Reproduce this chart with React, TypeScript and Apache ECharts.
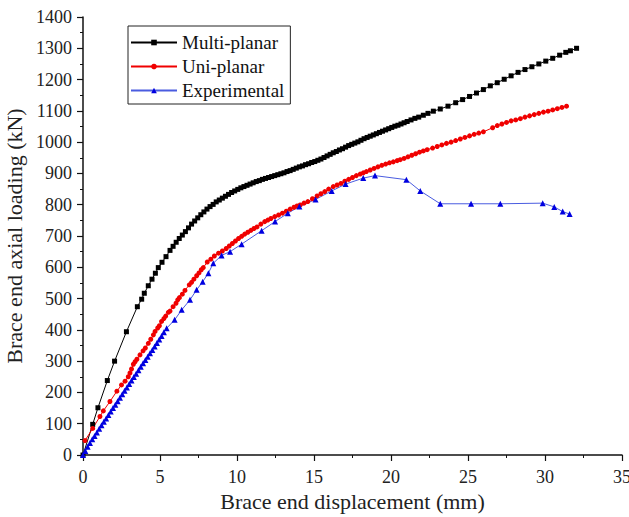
import React, { useEffect, useRef } from "react";
import * as echarts from "echarts";

const seriesNames = ["Multi-planar", "Uni-planar", "Experimental"];

const multiPlanar: [number, number][] = [
  [0, 0], [0.63, 98], [0.97, 151], [1.58, 238], [2.05, 300], [2.82, 394], [3.53, 474],
  [3.81, 498], [3.98, 517], [4.24, 541], [4.48, 562], [4.7, 581], [4.89, 599], [5.13, 616],
  [5.39, 634], [5.65, 654], [5.85, 667], [6.05, 680], [6.25, 692], [6.45, 703], [6.65, 714],
  [6.85, 726], [7.05, 738], [7.25, 748], [7.45, 758], [7.65, 768], [7.85, 777], [8.05, 786],
  [8.25, 794], [8.45, 801], [8.65, 809], [8.85, 815], [9.05, 821], [9.25, 827], [9.45, 833],
  [9.65, 839], [9.85, 844], [10.05, 849], [10.25, 854], [10.45, 858], [10.65, 862],
  [10.85, 866], [11.05, 870], [11.25, 874], [11.45, 877], [11.65, 881], [11.85, 884],
  [12.05, 887], [12.25, 890], [12.45, 893], [12.65, 896], [12.85, 899], [13.05, 902],
  [13.25, 906], [13.45, 909], [13.65, 913], [13.85, 917], [14.05, 921], [14.25, 924],
  [14.45, 928], [14.65, 931], [14.85, 935], [15.05, 938], [15.25, 942], [15.45, 946],
  [15.65, 951], [15.85, 956], [16.05, 961], [16.25, 966], [16.45, 970], [16.65, 975],
  [16.85, 979], [17.05, 984], [17.25, 989], [17.45, 993], [17.65, 997], [17.85, 1001],
  [18.05, 1006], [18.25, 1011], [18.45, 1015], [18.65, 1019], [18.85, 1023], [19.05, 1027],
  [19.25, 1031], [19.45, 1035], [19.65, 1039], [19.85, 1043], [20.05, 1047], [20.25, 1051],
  [20.45, 1054], [20.65, 1058], [20.85, 1062], [21.05, 1066], [21.3, 1071], [21.55, 1076],
  [21.8, 1080], [22.1, 1086], [22.4, 1092], [22.75, 1099], [23.2, 1106], [23.7, 1115],
  [24.2, 1126], [24.65, 1136], [25.1, 1146], [25.55, 1157], [26.0, 1168], [26.45, 1180],
  [26.9, 1190], [27.35, 1201], [27.8, 1212], [28.25, 1223], [28.7, 1232], [29.15, 1241],
  [29.6, 1250], [30.05, 1259], [30.5, 1268], [30.95, 1278], [31.35, 1287], [31.65, 1292],
  [32.05, 1300],
];

const uniPlanar: [number, number][] = [
  [0.13, 46], [0.63, 85], [1.1, 123], [1.32, 141], [1.75, 171], [2.2, 204], [2.5, 224],
  [2.73, 236], [2.94, 250], [3.05, 262], [3.15, 275], [3.27, 290], [3.38, 298], [3.5, 306],
  [3.7, 320], [3.9, 333], [4.05, 342], [4.24, 357], [4.4, 370], [4.57, 384], [4.68, 395],
  [4.85, 406], [4.96, 413], [5.1, 427], [5.25, 436], [5.37, 444], [5.54, 456], [5.65, 460],
  [5.85, 474], [6.04, 485], [6.15, 496], [6.26, 503], [6.45, 514], [6.62, 526], [6.9, 544],
  [7.05, 552], [7.2, 562], [7.38, 573], [7.53, 582], [7.68, 592], [7.81, 599], [8.07, 617],
  [8.3, 626], [8.53, 636], [8.8, 645], [9.05, 652], [9.3, 660], [9.5, 668], [9.7, 676],
  [9.9, 684], [10.1, 692], [10.3, 699], [10.5, 706], [10.7, 712], [10.9, 718], [11.1, 724],
  [11.3, 729], [11.55, 738], [11.8, 746], [12.0, 751], [12.2, 756], [12.45, 762], [12.7, 767],
  [12.95, 773], [13.2, 779], [13.45, 786], [13.7, 792], [13.9, 796], [14.1, 799], [14.35, 805],
  [14.6, 810], [14.9, 819], [15.2, 828], [15.45, 835], [15.7, 842], [15.95, 850], [16.25, 858],
  [16.5, 863], [16.75, 868], [17.0, 875], [17.25, 881], [17.5, 887], [17.75, 893], [18.0, 898],
  [18.2, 902], [18.4, 906], [18.65, 911], [18.9, 916], [19.15, 921], [19.4, 926], [19.65, 930],
  [19.9, 934], [20.15, 937], [20.4, 941], [20.6, 944], [20.85, 948], [21.1, 953], [21.35, 958],
  [21.6, 963], [21.85, 968], [22.1, 972], [22.35, 976], [22.7, 981], [23.0, 986], [23.3, 991],
  [23.6, 996], [23.9, 1000], [24.2, 1005], [24.5, 1010], [24.8, 1015], [25.1, 1020],
  [25.4, 1025], [25.7, 1029], [26.0, 1033], [26.6, 1046], [26.9, 1053], [27.2, 1058],
  [27.5, 1063], [27.8, 1068], [28.1, 1071], [28.4, 1075], [28.7, 1080], [29.0, 1084],
  [29.3, 1088], [29.6, 1092], [29.9, 1096], [30.2, 1099], [30.5, 1103], [30.8, 1107],
  [31.1, 1111], [31.4, 1115],
];

const experimental: [number, number][] = [
  [0, 0], [0.15, 13], [0.3, 26], [0.45, 38], [0.6, 50], [0.75, 61], [0.9, 72], [1.05, 84],
  [1.2, 95], [1.35, 106], [1.5, 117], [1.65, 128], [1.8, 139], [1.95, 150], [2.1, 161],
  [2.25, 172], [2.4, 183], [2.55, 194], [2.7, 205], [2.85, 216], [3.0, 227], [3.15, 238],
  [3.3, 249], [3.45, 260], [3.6, 271], [3.75, 282], [3.9, 293], [4.05, 304], [4.2, 314],
  [4.35, 325], [4.5, 336], [4.65, 347], [4.8, 358], [4.95, 369], [5.1, 380], [5.25, 392],
  [5.43, 405], [5.95, 432], [6.41, 464], [6.95, 496], [7.38, 528], [7.77, 554], [8.14, 581],
  [8.46, 613], [9.0, 638], [9.55, 650], [10.3, 674], [11.6, 717], [12.47, 746], [13.3, 773],
  [14.05, 794], [15.1, 817], [16.15, 844], [17.05, 866], [18.2, 885], [18.96, 893],
  [21.0, 880], [21.9, 844], [23.2, 803], [25.2, 803], [27.1, 803], [29.85, 805], [30.6, 793],
  [31.15, 778], [31.6, 770],
];

const xTitle = "Brace end displacement (mm)";
const yTitle = "Brace end axial loading (kN)";

const FONT = "'Liberation Serif', 'Times New Roman', serif";

export default function App() {
  const ref = useRef<HTMLDivElement>(null);
  useEffect(() => {
    if (!ref.current) return;
    const chart = echarts.init(ref.current, undefined, { renderer: "svg" });
    const axisCommon = {
      axisLine: { show: true, lineStyle: { color: "#111", width: 1.5 } },
      axisTick: { show: true, inside: false, length: 6, lineStyle: { color: "#111", width: 1.2 } },
      minorTick: { show: true, splitNumber: 2, length: 3, lineStyle: { color: "#111", width: 1 } },
      splitLine: { show: false },
      minorSplitLine: { show: false },
      axisLabel: { fontSize: 18, fontFamily: FONT, color: "#222", formatter: (v: number) => String(v) },
      nameLocation: "middle" as const,
      nameTextStyle: { fontSize: 22, fontFamily: FONT, color: "#222" },
    };
    chart.setOption({
      animation: false,
      backgroundColor: "#fff",
      grid: { left: 83, right: 7, top: 17, bottom: 62, containLabel: false, outerBoundsMode: "none" },
      legend: {
        orient: "vertical",
        left: 128,
        top: 26,
        data: seriesNames,
        itemWidth: 46,
        itemHeight: 7,
        itemGap: 5,
        padding: [7, 6, 4, 2],
        borderColor: "#222",
        borderWidth: 1,
        textStyle: { fontSize: 19, fontFamily: FONT, color: "#111" },
      },
      xAxis: {
        type: "value",
        min: 0,
        max: 35,
        interval: 5,
        name: xTitle,
        nameGap: 30,
        ...axisCommon,
        axisLabel: { ...axisCommon.axisLabel, margin: 13 },
      },
      yAxis: {
        type: "value",
        min: 0,
        max: 1400,
        interval: 100,
        name: yTitle,
        nameGap: 54,
        ...axisCommon,
        axisLabel: { ...axisCommon.axisLabel, margin: 11 },
      },
      series: [
        {
          name: seriesNames[0],
          type: "line",
          data: multiPlanar,
          symbol: "rect",
          symbolSize: 5,
          itemStyle: { color: "#000" },
          lineStyle: { color: "#000", width: 1 },
          clip: false,
        },
        {
          name: seriesNames[1],
          type: "line",
          data: uniPlanar,
          symbol: "circle",
          symbolSize: 5,
          itemStyle: { color: "#f00000" },
          lineStyle: { color: "#f00000", width: 1 },
          clip: false,
        },
        {
          name: seriesNames[2],
          type: "line",
          data: experimental,
          symbol: "triangle",
          symbolSize: 6,
          itemStyle: { color: "#0000e0" },
          lineStyle: { color: "#4a5ce0", width: 1 },
          clip: false,
        },
      ],
    });
    return () => chart.dispose();
  }, []);
  return <div ref={ref} style={{ width: 629, height: 517, position: "absolute", left: 0, top: 0 }} />;
}
